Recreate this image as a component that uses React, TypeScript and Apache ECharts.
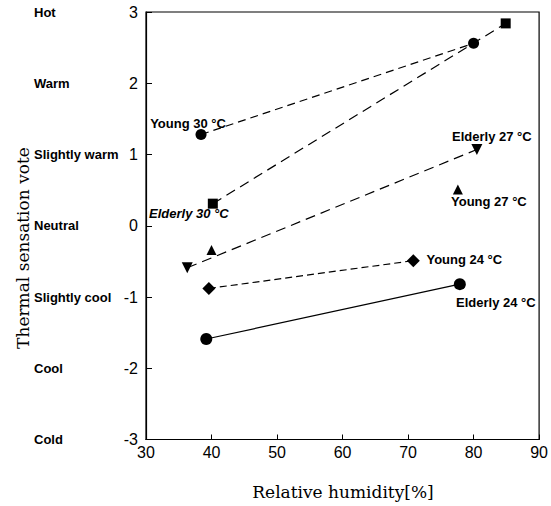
import React, { useEffect, useRef } from "react";
import * as echarts from "echarts";

const yTickValues = [-3, -2, -1, 0, 1, 2, 3];
const sensationLabels = ["Cold", "Cool", "Slightly cool", "Neutral", "Slightly warm", "Warm", "Hot"];

const young30X = [38.4, 80.0];
const young30Y = [1.28, 2.56];
const elderly30X = [40.2, 84.9];
const elderly30Y = [0.31, 2.84];
const elderly27X = [36.3, 80.5];
const elderly27Y = [-0.59, 1.07];
const young27X = [40.0, 77.6];
const young27Y = [-0.34, 0.51];
const young24X = [39.6, 70.8];
const young24Y = [-0.88, -0.49];
const elderly24X = [39.2, 77.9];
const elderly24Y = [-1.59, -0.82];

const labelFont = { fontFamily: "Liberation Sans, Arial, sans-serif", fontWeight: "bold" as const, fontSize: 13, color: "#000" };

function pts(xs: number[], ys: number[], labelIdx: number, text: string, offset: number[], italic = false) {
  return xs.map((x, i) => {
    const item: any = { value: [x, ys[i]] };
    if (i === labelIdx) {
      item.label = {
        show: true,
        position: "inside",
        offset,
        formatter: text,
        ...labelFont,
        fontStyle: italic ? "italic" : "normal",
      };
    }
    return item;
  });
}

export default function App() {
  const ref = useRef<HTMLDivElement>(null);
  useEffect(() => {
    if (!ref.current) return;
    const chart = echarts.init(ref.current, null, { renderer: "svg" });
    const lineBase = { type: "line" as const, itemStyle: { color: "#000", opacity: 1 }, z: 3 };
    chart.setOption({
      animation: false,
      backgroundColor: "#fff",
      grid: { left: 146, right: 9, top: 12, bottom: 66.5, show: true, borderColor: "#000", borderWidth: 1.2 },
      xAxis: {
        type: "value",
        min: 30,
        max: 90,
        interval: 10,
        splitLine: { show: false },
        axisLine: { onZero: false, lineStyle: { color: "#000", width: 1.2 } },
        axisTick: { inside: true, length: 5, lineStyle: { color: "#000" } },
        axisLabel: { margin: 5, fontSize: 16, fontFamily: "Liberation Sans, Arial, sans-serif", color: "#000" },
      },
      yAxis: [
        {
          type: "value",
          min: -3,
          max: 3,
          interval: 1,
          splitLine: { show: false },
          axisLine: { show: true, onZero: false, lineStyle: { color: "#000", width: 1.2 } },
          axisTick: { show: true, inside: true, length: 6, lineStyle: { color: "#000" } },
          axisLabel: { margin: 8, fontSize: 16, fontFamily: "Liberation Sans, Arial, sans-serif", color: "#000" },
        },
        {
          type: "value",
          min: -3,
          max: 3,
          interval: 1,
          position: "left",
          offset: 0,
          splitLine: { show: false },
          axisLine: { show: false },
          axisTick: { show: false },
          axisLabel: {
            margin: 112,
            align: "left",
            ...labelFont,
            formatter: (v: number) => sensationLabels[yTickValues.indexOf(v)] ?? "",
          },
        },
      ],
      graphic: [
        {
          type: "text",
          x: 23,
          y: 248,
          rotation: Math.PI / 2,
          style: {
            text: "Thermal sensation vote",
            fontFamily: "DejaVu Serif, serif",
            fontSize: 17,
            fill: "#000",
            align: "center",
            verticalAlign: "middle",
          },
        },
        {
          type: "text",
          x: 343,
          y: 492,
          style: {
            text: "Relative humidity[%]",
            fontFamily: "DejaVu Serif, serif",
            fontSize: 17,
            fill: "#000",
            align: "center",
            verticalAlign: "middle",
          },
        },
      ],
      series: [
        {
          ...lineBase,
          name: "Young 30",
          symbol: "circle",
          symbolSize: 11,
          lineStyle: { color: "#000", width: 1.2, type: [8, 5] },
          data: pts(young30X, young30Y, 0, "Young 30 °C", [-13, -11]),
        },
        {
          ...lineBase,
          name: "Elderly 30",
          symbol: "rect",
          symbolSize: 10,
          lineStyle: { color: "#000", width: 1.2, type: [10, 6] },
          data: pts(elderly30X, elderly30Y, 0, "Elderly 30 °C", [-24, 10], true),
        },
        {
          ...lineBase,
          name: "Elderly 27",
          symbol: "triangle",
          symbolRotate: 180,
          symbolSize: 11,
          lineStyle: { color: "#000", width: 1.2, type: [10, 6] },
          data: pts(elderly27X, elderly27Y, 1, "Elderly 27 °C", [15, -13]),
        },
        {
          type: "scatter",
          name: "Young 27",
          symbol: "triangle",
          symbolSize: 10,
          itemStyle: { color: "#000", opacity: 1 },
          z: 3,
          data: pts(young27X, young27Y, 1, "Young 27 °C", [31, 12]),
        },
        {
          ...lineBase,
          name: "Young 24",
          symbol: "diamond",
          symbolSize: 13,
          lineStyle: { color: "#000", width: 1.2, type: [7, 4] },
          data: pts(young24X, young24Y, 1, "Young 24 °C", [51, -1]),
        },
        {
          ...lineBase,
          name: "Elderly 24",
          symbol: "circle",
          symbolSize: 12,
          lineStyle: { color: "#000", width: 1.2, type: "solid" },
          data: pts(elderly24X, elderly24Y, 1, "Elderly 24 °C", [36, 18]),
        },
      ],
    });
    return () => chart.dispose();
  }, []);
  return <div ref={ref} style={{ width: 551, height: 506, position: "absolute", left: 0, top: 0 }} />;
}
